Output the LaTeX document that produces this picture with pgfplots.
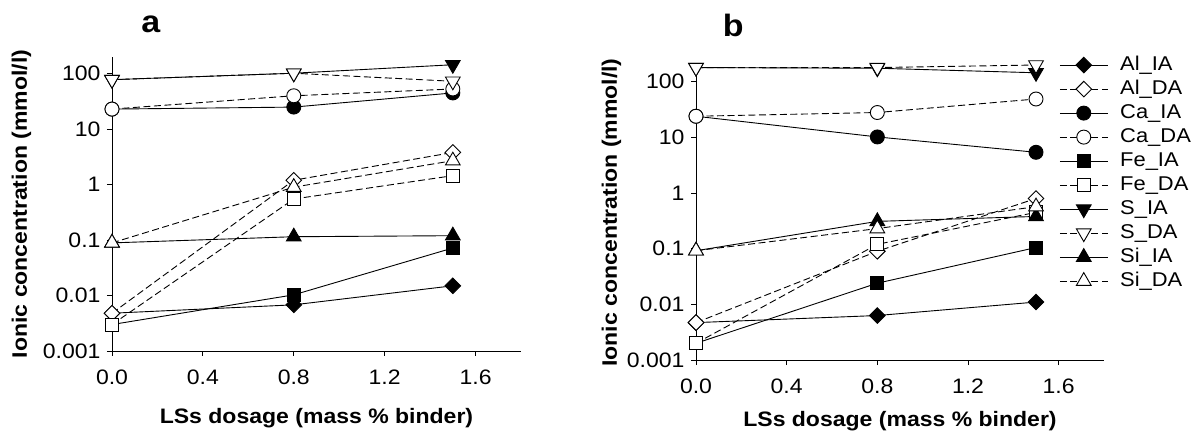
\documentclass[border=0pt]{standalone}
\usepackage{fontspec}
\setmainfont{Liberation Sans}[FakeStretch=1.1]
\usepackage{pgfplots}
\pgfplotsset{compat=1.18}

% line and marker styles for the two series families
\tikzset{
  ia/.style={black, line width=0.9bp, solid,
    mark options={solid, fill=black, line width=0.9bp}},
  da/.style={black, line width=0.9bp, dash pattern=on 7bp off 3.5bp,
    mark options={solid, fill=white, line width=0.9bp}},
  alm/.style={mark=square*, mark size=5.5bp, every mark/.append style={rotate=45}},
  cam/.style={mark=*, mark size=7bp},
  fem/.style={mark=square*, mark size=6.5bp},
  sm/.style={mark=triangle*, mark size=8.5bp, every mark/.append style={rotate=180}},
  sim/.style={mark=triangle*, mark size=8.5bp},
}

\pgfplotsset{
  every axis/.append style={
    scale only axis,
    ymode=log,
    xmin=0, xmax=1.8, ymin=0.001, ymax=200,
    axis x line*=bottom, axis y line*=left,
    axis line style={black, line width=1bp, -},
    xtick={0,0.4,0.8,1.2,1.6}, xticklabels={0.0,0.4,0.8,1.2,1.6},
    ytick={0.001,0.01,0.1,1,10,100}, yticklabels={0.001,0.01,0.1,1,10,100},
    yminorticks=false, xminorticks=false,
    tick align=outside, major tick length=5bp,
    tick style={black, line width=1bp},
    tick label style={font=\fontsize{21}{21}\selectfont},
    xticklabel style={yshift=-10bp},
    yticklabel style={xshift=-3bp},
    label style={font=\bfseries\fontsize{21}{21}\selectfont},
    clip=false,
  },
  /pgf/number format/assume math mode=true,
  legend image code/.code={
    \draw[mark repeat=2, mark phase=2, #1]
      plot coordinates {(0bp,0bp) (24bp,0bp) (48bp,0bp)};},
}

\begin{document}
\begin{tikzpicture}
\useasboundingbox (0bp,0bp) rectangle (1196bp,-434bp);

% ---------------- panel a ----------------
\begin{axis}[
  at={(112bp,-351bp)}, anchor=south west,
  width=409bp, height=294bp,
  xlabel={LSs dosage (mass \% binder)},
  ylabel={Ionic concentration (mmol/l)},
  xlabel style={at={(axis description cs:0.5,-0.245)}, anchor=base},
  ylabel style={at={(axis description cs:-0.208,0.5)}, anchor=base},
]
\addplot[ia, alm] coordinates {(0,0.0048) (0.8,0.0068) (1.5,0.015)};
\addplot[da, alm] coordinates {(0,0.0048) (0.8,1.2) (1.5,3.8)};
\addplot[ia, cam] coordinates {(0,23) (0.8,25) (1.5,45)};
\addplot[da, cam] coordinates {(0,23) (0.8,40) (1.5,53)};
\addplot[ia, fem] coordinates {(0,0.003) (0.8,0.0103) (1.5,0.072)};
\addplot[da, fem] coordinates {(0,0.003) (0.8,0.55) (1.5,1.45)};
\addplot[ia, sm] coordinates {(0,78) (0.8,102) (1.5,145)};
\addplot[da, sm] coordinates {(0,78) (0.8,102) (1.5,73)};
\addplot[ia, sim] coordinates {(0,0.089) (0.8,0.115) (1.5,0.12)};
\addplot[da, sim] coordinates {(0,0.089) (0.8,0.9) (1.5,2.7)};
\node[font=\bfseries\fontsize{31}{31}\selectfont, anchor=base]
  at (axis description cs:0.095,1.082) {a};
\end{axis}

% ---------------- panel b ----------------
\begin{axis}[
  at={(696bp,-360bp)}, anchor=south west,
  width=408bp, height=295bp,
  xlabel={LSs dosage (mass \% binder)},
  ylabel={Ionic concentration (mmol/l)},
  xlabel style={at={(axis description cs:0.5,-0.227)}, anchor=base},
  ylabel style={at={(axis description cs:-0.194,0.5)}, anchor=base},
  legend cell align=left,
  legend style={draw=none, fill=none, inner sep=0pt,
    at={(0.890,1.041)}, anchor=north west,
    column sep=9bp, row sep=0bp,
    font=\fontsize{20}{20}\selectfont,
    nodes={inner sep=3bp, text height=14bp, text depth=4bp}},
]
\addplot[ia, alm] coordinates {(0,0.0047) (0.8,0.0063) (1.5,0.011)};
\addplot[da, alm] coordinates {(0,0.0047) (0.8,0.09) (1.5,0.8)};
\addplot[ia, cam] coordinates {(0,24) (0.8,10.2) (1.5,5.4)};
\addplot[da, cam] coordinates {(0,24) (0.8,28) (1.5,49)};
\addplot[ia, fem] coordinates {(0,0.002) (0.8,0.024) (1.5,0.105)};
\addplot[da, fem] coordinates {(0,0.002) (0.8,0.12) (1.5,0.45)};
\addplot[ia, sm] coordinates {(0,180) (0.8,175) (1.5,145)};
\addplot[da, sm] coordinates {(0,180) (0.8,180) (1.5,200)};
\addplot[ia, sim] coordinates {(0,0.092) (0.8,0.31) (1.5,0.38)};
\addplot[da, sim] coordinates {(0,0.092) (0.8,0.23) (1.5,0.57)};
\legend{Al\_IA, Al\_DA, Ca\_IA, Ca\_DA, Fe\_IA, Fe\_DA, S\_IA, S\_DA, Si\_IA, Si\_DA}
\node[font=\bfseries\fontsize{31}{31}\selectfont, anchor=base]
  at (axis description cs:0.091,1.095) {b};
\end{axis}
\end{tikzpicture}
\end{document}
